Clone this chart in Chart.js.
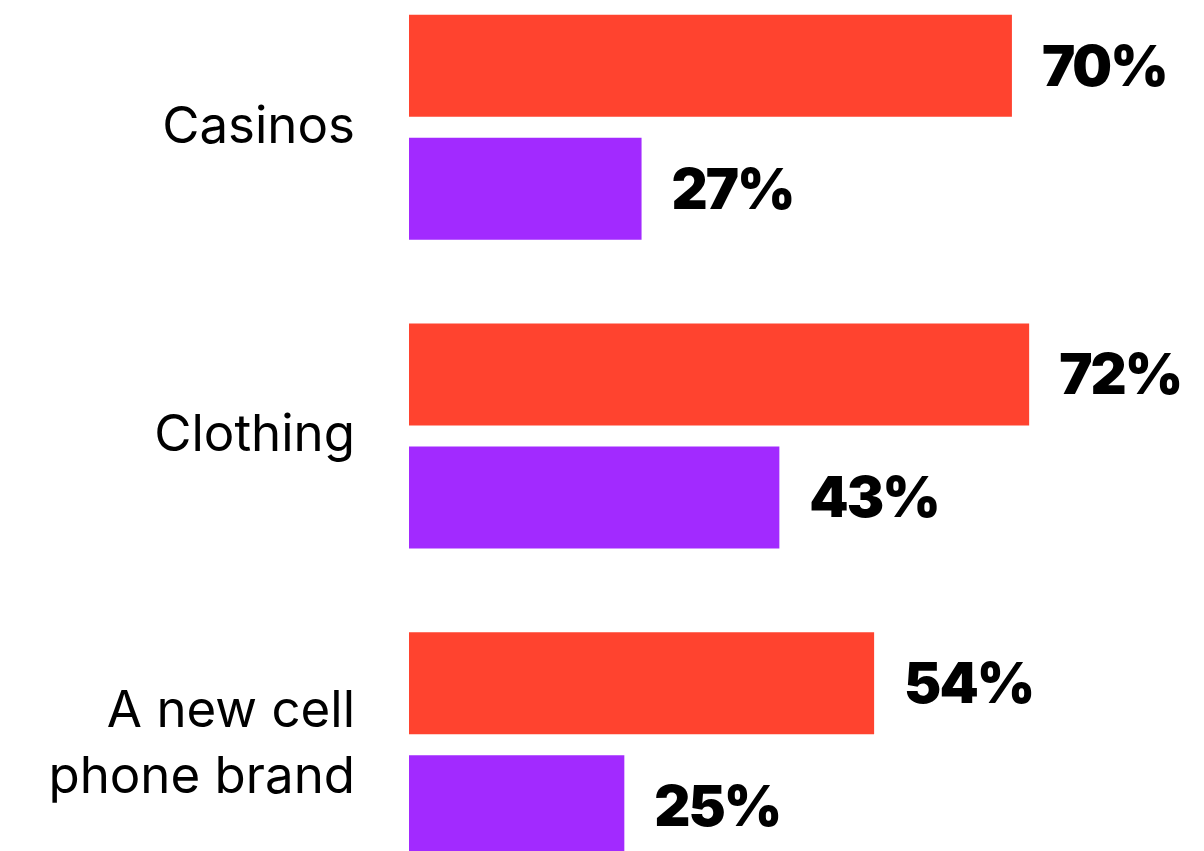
<!DOCTYPE html>
<html>
<head>
<meta charset="utf-8">
<script src="https://cdn.jsdelivr.net/npm/chart.js@4.4.1/dist/chart.umd.min.js"></script>
<style>
  html, body { margin: 0; padding: 0; background: #fff; overflow: hidden; }
  #wrap { position: absolute; left: 0; top: -27px; width: 1204px; height: 926px; }
</style>
</head>
<body>
<div id="wrap"><canvas id="barChart" width="1204" height="926"></canvas></div>
<script>
const categories = ["Casinos", "Clothing", ["A new cell", "phone brand"]];
const seriesRed = [70, 72, 54];
const seriesPurple = [27, 43, 25];

// draws "NN%" just past the end of every bar
const valueLabels = {
  id: "valueLabels",
  afterDatasetsDraw(chart) {
    const c = chart.ctx;
    c.save();
    c.font = "900 56px Inter";
    c.letterSpacing = "-2px";
    c.fillStyle = "#000";
    c.textAlign = "left";
    c.textBaseline = "middle";
    chart.data.datasets.forEach((ds, i) => {
      chart.getDatasetMeta(i).data.forEach((bar, j) => {
        c.fillText(ds.data[j] + "%", bar.x + 30, bar.y + 3);
      });
    });
    c.restore();
  },
};

const ctx = document.getElementById("barChart").getContext("2d");
const barChart = new Chart(ctx, {
  type: "bar",
  data: {
    labels: categories,
    datasets: [
      {
        data: seriesRed,
        backgroundColor: "#ff432f",
        categoryPercentage: 0.797,
        barPercentage: 0.829,
      },
      {
        data: seriesPurple,
        backgroundColor: "#a22aff",
        categoryPercentage: 0.797,
        barPercentage: 0.829,
      },
    ],
  },
  options: {
    indexAxis: "y",
    responsive: false,
    animation: false,
    layout: { padding: 0 },
    plugins: { legend: { display: false }, tooltip: { enabled: false } },
    scales: {
      x: {
        min: 0,
        max: 92.3,
        display: false,
      },
      y: {
        grid: { display: false, drawTicks: false },
        border: { display: false },
        ticks: {
          padding: 54,
          color: "#000",
          font: { family: "Inter", size: 51, lineHeight: 1.3 },
        },
        afterFit: (scale) => {
          scale.width = 409;
          // labels sit inside the band, no extra room above/below
          scale.paddingTop = 0;
          scale.paddingBottom = 0;
        },
      },
    },
  },
  plugins: [valueLabels],
});
</script>
</body>
</html>
